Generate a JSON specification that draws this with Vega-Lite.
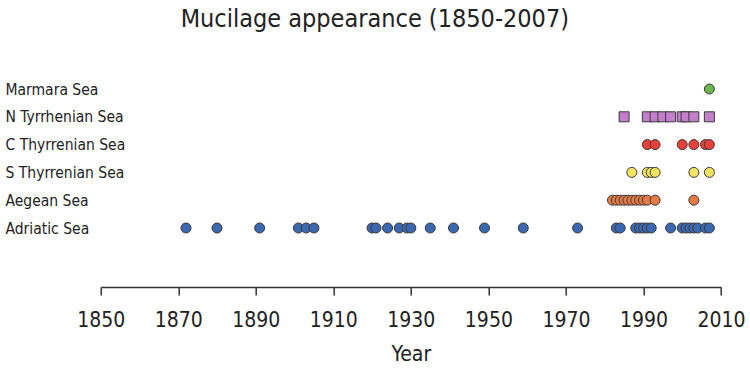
{
  "$schema": "https://vega.github.io/schema/vega-lite/v6.json",
  "autosize": "none",
  "width": 620.3,
  "height": 212,
  "padding": {"left": 100.7, "top": 75, "right": 29, "bottom": 81},
  "background": "white",
  "config": {"view": {"stroke": null}, "font": "DejaVu Sans Condensed"},
  "title": {"text": "Mucilage appearance (1850-2007)", "fontSize": 25, "fontWeight": "normal", "color": "#222", "anchor": "middle", "dx": -36, "offset": 43, "font": "DejaVu Sans Condensed"},
  "data": {"values": [
    {"sea": "Adriatic Sea", "year": 1872}, {"sea": "Adriatic Sea", "year": 1880}, {"sea": "Adriatic Sea", "year": 1891},
    {"sea": "Adriatic Sea", "year": 1901}, {"sea": "Adriatic Sea", "year": 1903}, {"sea": "Adriatic Sea", "year": 1905},
    {"sea": "Adriatic Sea", "year": 1920}, {"sea": "Adriatic Sea", "year": 1921}, {"sea": "Adriatic Sea", "year": 1924},
    {"sea": "Adriatic Sea", "year": 1927}, {"sea": "Adriatic Sea", "year": 1929}, {"sea": "Adriatic Sea", "year": 1930},
    {"sea": "Adriatic Sea", "year": 1935}, {"sea": "Adriatic Sea", "year": 1941}, {"sea": "Adriatic Sea", "year": 1949},
    {"sea": "Adriatic Sea", "year": 1959}, {"sea": "Adriatic Sea", "year": 1973}, {"sea": "Adriatic Sea", "year": 1983},
    {"sea": "Adriatic Sea", "year": 1984}, {"sea": "Adriatic Sea", "year": 1988}, {"sea": "Adriatic Sea", "year": 1989},
    {"sea": "Adriatic Sea", "year": 1990}, {"sea": "Adriatic Sea", "year": 1991}, {"sea": "Adriatic Sea", "year": 1992},
    {"sea": "Adriatic Sea", "year": 1997}, {"sea": "Adriatic Sea", "year": 2000}, {"sea": "Adriatic Sea", "year": 2001},
    {"sea": "Adriatic Sea", "year": 2002}, {"sea": "Adriatic Sea", "year": 2003}, {"sea": "Adriatic Sea", "year": 2004},
    {"sea": "Adriatic Sea", "year": 2006}, {"sea": "Adriatic Sea", "year": 2007},
    {"sea": "Aegean Sea", "year": 1982}, {"sea": "Aegean Sea", "year": 1983}, {"sea": "Aegean Sea", "year": 1984},
    {"sea": "Aegean Sea", "year": 1985}, {"sea": "Aegean Sea", "year": 1986}, {"sea": "Aegean Sea", "year": 1987},
    {"sea": "Aegean Sea", "year": 1988}, {"sea": "Aegean Sea", "year": 1989}, {"sea": "Aegean Sea", "year": 1990},
    {"sea": "Aegean Sea", "year": 1991}, {"sea": "Aegean Sea", "year": 1993}, {"sea": "Aegean Sea", "year": 2003},
    {"sea": "S Thyrrenian Sea", "year": 1987}, {"sea": "S Thyrrenian Sea", "year": 1991}, {"sea": "S Thyrrenian Sea", "year": 1992},
    {"sea": "S Thyrrenian Sea", "year": 1993}, {"sea": "S Thyrrenian Sea", "year": 2003}, {"sea": "S Thyrrenian Sea", "year": 2007},
    {"sea": "C Thyrrenian Sea", "year": 1991}, {"sea": "C Thyrrenian Sea", "year": 1993}, {"sea": "C Thyrrenian Sea", "year": 2000},
    {"sea": "C Thyrrenian Sea", "year": 2003}, {"sea": "C Thyrrenian Sea", "year": 2006}, {"sea": "C Thyrrenian Sea", "year": 2007},
    {"sea": "N Tyrrhenian Sea", "year": 1985}, {"sea": "N Tyrrhenian Sea", "year": 1991}, {"sea": "N Tyrrhenian Sea", "year": 1993},
    {"sea": "N Tyrrhenian Sea", "year": 1995}, {"sea": "N Tyrrhenian Sea", "year": 1997}, {"sea": "N Tyrrhenian Sea", "year": 2000},
    {"sea": "N Tyrrhenian Sea", "year": 2001}, {"sea": "N Tyrrhenian Sea", "year": 2003}, {"sea": "N Tyrrhenian Sea", "year": 2007},
    {"sea": "Marmara Sea", "year": 2007}
  ]},
  "mark": {"type": "point", "filled": true, "size": 100, "stroke": "#3a3a3a", "strokeWidth": 1, "opacity": 1},
  "encoding": {
    "x": {"field": "year", "type": "quantitative",
      "scale": {"domain": [1850, 2010], "nice": false, "zero": false},
      "axis": {"values": [1850, 1870, 1890, 1910, 1930, 1950, 1970, 1990, 2010], "format": "d", "grid": false, "labelFlush": false, "labelOverlap": false,
        "domainColor": "#333", "domainWidth": 1.5, "tickColor": "#333", "tickWidth": 1.5, "tickSize": 8,
        "labelFontSize": 21, "labelColor": "#222", "labelPadding": 14, "labelFont": "DejaVu Sans Condensed",
        "title": "Year", "titleFontSize": 21, "titleFontWeight": "normal", "titleColor": "#222", "titlePadding": 13, "titleFont": "DejaVu Sans Condensed"}},
    "y": {"field": "sea", "type": "nominal",
      "scale": {"type": "point", "padding": 0, "domain": ["Marmara Sea", "N Tyrrhenian Sea", "C Thyrrenian Sea", "S Thyrrenian Sea", "Aegean Sea", "Adriatic Sea"], "range": [14, 153]},
      "axis": {"domain": false, "ticks": false, "grid": false, "title": null, "labelAlign": "left", "labelPadding": 95.7,
        "labelFontSize": 15.5, "labelColor": "#222", "labelFont": "DejaVu Sans Condensed"}},
    "color": {"field": "sea", "type": "nominal", "legend": null,
      "scale": {"domain": ["Marmara Sea", "N Tyrrhenian Sea", "C Thyrrenian Sea", "S Thyrrenian Sea", "Aegean Sea", "Adriatic Sea"],
        "range": ["#6cb54c", "#c47fcb", "#e8403a", "#f4e462", "#e57a45", "#3c68b0"]}},
    "shape": {"field": "sea", "type": "nominal", "legend": null,
      "scale": {"domain": ["Marmara Sea", "N Tyrrhenian Sea", "C Thyrrenian Sea", "S Thyrrenian Sea", "Aegean Sea", "Adriatic Sea"],
        "range": ["circle", "square", "circle", "circle", "circle", "circle"]}}
  }
}
